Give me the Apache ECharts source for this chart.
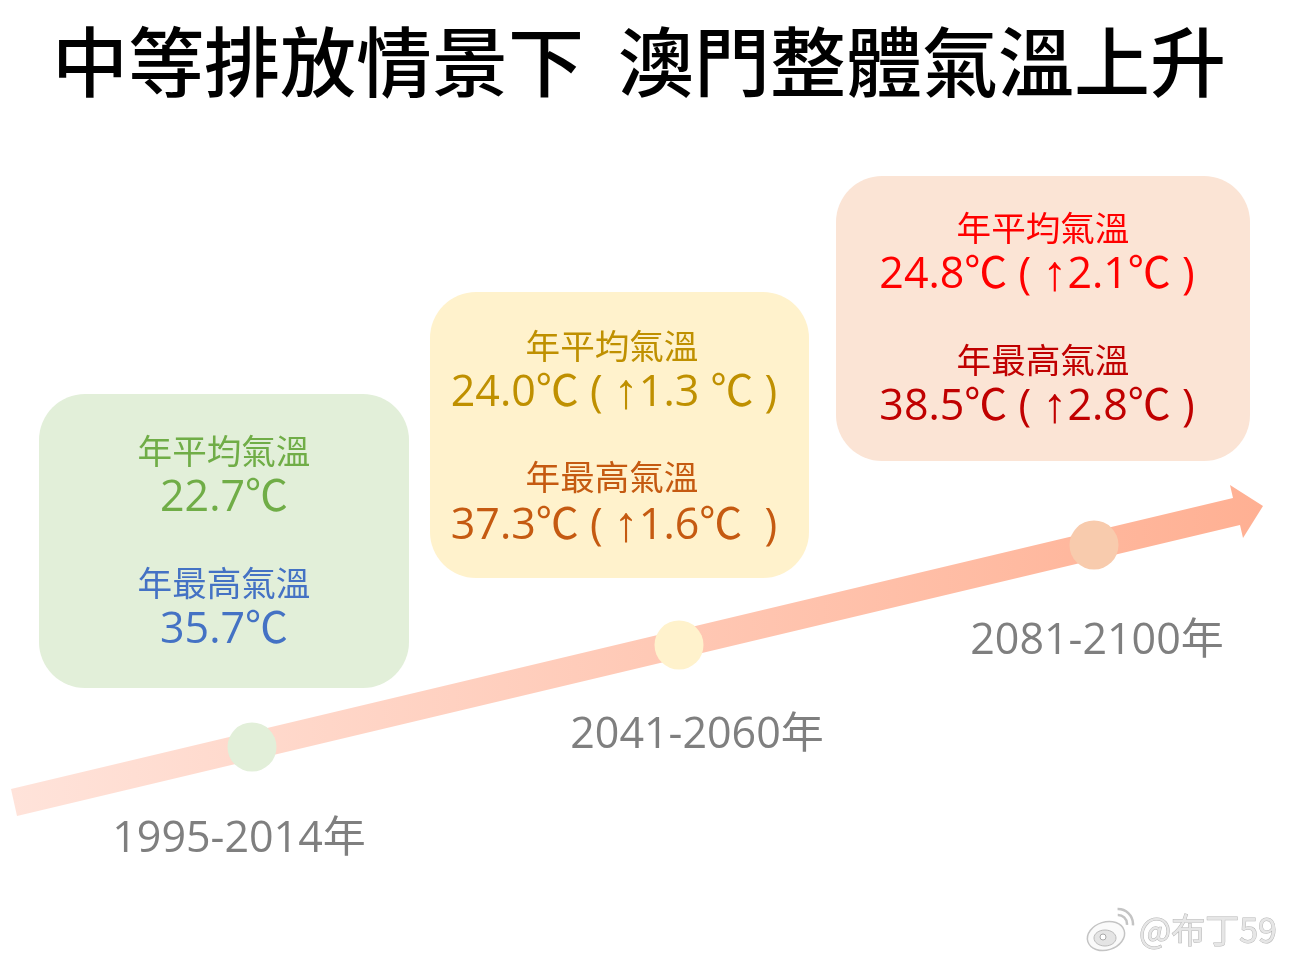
<!DOCTYPE html>
<html><head><meta charset="utf-8">
<style>html,body{margin:0;padding:0;background:#fff}#c{width:1289px;height:960px}</style>
<script src="https://cdn.jsdelivr.net/npm/echarts@6/dist/echarts.min.js"></script></head>
<body><div id="c"></div>
<script>
const titleText = '中等排放情景下  澳門整體氣溫上升';
const periods = ['1995-2014年', '2041-2060年', '2081-2100年'];
const meanHeading = '年平均氣溫';
const maxHeading = '年最高氣溫';
const meanValues = ['22.7℃', '24.0℃ ( ↑1.3 ℃ )', '24.8℃ ( ↑2.1℃ )'];
const maxValues = ['35.7℃', '37.3℃ ( ↑1.6℃  )', '38.5℃ ( ↑2.8℃ )'];
const watermark = '@布丁59';

// layout (page pixels, fed through hidden 1:1 axes)
const cardBoxes = [[39,394,370,294],[430,292,379,286],[836,176,414,285]];
const cardFills = ['#e2efd9','#fff2cc','#fbe4d5'];
const headColors = [['#70ad47','#4472c4'],['#bf9000','#c55a11'],['#ff0000','#c00000']];
const headX = [224,612,1043], valueX = [224,614,1037];
const rowY = [[451,499,583,631],[346,394,477,527],[228,276,360,408]];
const nodes = [[252,747],[679,645],[1094,545]];
const periodPos = [[239,840],[697,736],[1097,642]];
const arrowOutline = [[11,789],[1233,498],[1230,485],[1263,506],[1243,538],[1240,525],[17,816]];

const CJK = '"Noto Sans CJK TC"';
const NUM = '"Open Sans","Noto Sans CJK TC"';

const texts = [];
periods.forEach((p,i)=>{
  texts.push({x:headX[i],y:rowY[i][0],t:meanHeading,c:headColors[i][0],s:34.6,f:CJK});
  texts.push({x:valueX[i],y:rowY[i][1],t:meanValues[i],c:headColors[i][0],s:43,f:NUM,rich:true});
  texts.push({x:headX[i],y:rowY[i][2],t:maxHeading,c:headColors[i][1],s:34.6,f:CJK});
  texts.push({x:valueX[i],y:rowY[i][3],t:maxValues[i],c:headColors[i][1],s:43,f:NUM,rich:true});
  texts.push({x:periodPos[i][0],y:periodPos[i][1],t:p,c:'#7f7f7f',s:43,f:NUM});
});

const markup = s => s.replace(/↑/g,'{a|↑}');

const chart = echarts.init(document.getElementById('c'));
chart.setOption({
  animation:false,
  backgroundColor:'#fff',
  title:{text:titleText,left:634,top:19,textAlign:'center',
    textStyle:{fontFamily:CJK,fontSize:76,fontWeight:500,color:'#000'}},
  grid:{left:0,right:0,top:0,bottom:0},
  xAxis:{type:'value',min:0,max:1289,show:false},
  yAxis:{type:'value',min:0,max:960,inverse:true,show:false},
  series:[
    {type:'custom',silent:true,z:1,coordinateSystem:'cartesian2d',data:cardBoxes,
      renderItem:(p,api)=>{
        const a=api.coord([api.value(0),api.value(1)]);
        const b=api.coord([api.value(0)+api.value(2),api.value(1)+api.value(3)]);
        return {type:'rect',shape:{x:a[0],y:a[1],width:b[0]-a[0],height:b[1]-a[1],r:46},
          style:{fill:cardFills[p.dataIndex]}};
      },encode:{x:0,y:1}},
    {type:'custom',silent:true,z:2,coordinateSystem:'cartesian2d',data:[[0,0]],
      renderItem:(p,api)=>({type:'polygon',
        shape:{points:arrowOutline.map(q=>api.coord(q))},
        style:{fill:new echarts.graphic.LinearGradient(0,0,1,0,[
          {offset:0,color:'#ffe3da'},{offset:1,color:'#ffb093'}])}}),
      encode:{x:0,y:1}},
    {type:'scatter',silent:true,z:3,symbol:'circle',symbolSize:49,data:nodes,
      itemStyle:{opacity:1,color:c=>['#e2efd9','#fff2cc','#f8cbad'][c.dataIndex]}},
    {type:'custom',silent:true,z:4,coordinateSystem:'cartesian2d',
      data:texts.map(d=>[d.x,d.y]),
      renderItem:(p,api)=>{
        const d=texts[p.dataIndex],c=api.coord([d.x,d.y]);
        const style={text:d.rich?markup(d.t):d.t,fill:d.c,font:`${d.s}px ${d.f}`,
          textAlign:'center',textVerticalAlign:'middle'};
        if(d.rich){
          style.rich={
            a:{fontFamily:'"Liberation Sans"',fontWeight:700,fontSize:50,lineHeight:50,fill:d.c,color:d.c}
          };
        }
        return {type:'text',x:c[0],y:c[1],style};
      },encode:{x:0,y:1}}
  ],
  graphic:[
    {type:'group',silent:true,children:[
      {type:'ellipse',shape:{cx:1106,cy:936,rx:19,ry:14},rotation:0.3,originX:1106,originY:936,
        style:{fill:'#fafafa',stroke:'#c4c4c4',lineWidth:1.5}},
      {type:'ellipse',shape:{cx:1105,cy:938,rx:11,ry:8},style:{fill:'#e4e4e4',stroke:'#bbb',lineWidth:1}},
      {type:'circle',shape:{cx:1103,cy:937,r:3},style:{fill:'#fff',stroke:'#aaa',lineWidth:1}},
      {type:'arc',shape:{cx:1118,cy:924,r:9,startAngle:-1.6,endAngle:0.1},style:{fill:null,stroke:'#c4c4c4',lineWidth:2.5}},
      {type:'arc',shape:{cx:1118,cy:924,r:15,startAngle:-1.6,endAngle:0.1},style:{fill:null,stroke:'#c4c4c4',lineWidth:2.5}},
      {type:'text',x:1139,y:930,style:{text:watermark,font:'34px "Noto Sans CJK SC"',fill:'#e6e6e6',
        stroke:'#b5b5b5',lineWidth:1,textVerticalAlign:'middle'}}
    ]}
  ]
});
</script></body></html>
